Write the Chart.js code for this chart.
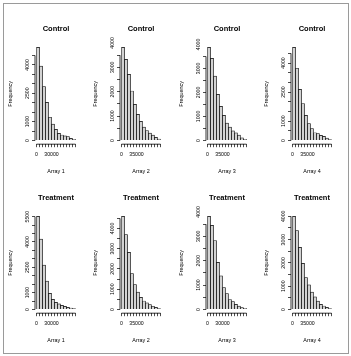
<!DOCTYPE html>
<html lang="en">
<head>
<meta charset="UTF-8">
<title>Control vs Treatment histograms</title>
<script src="https://cdn.jsdelivr.net/npm/chart.js"></script>
<style>
  body { margin: 0; background: #fff; }
  #frame { position: absolute; left: 3px; top: 3px; width: 344px; height: 349px; border: 1px solid #9a9a9a; }
  .panel { position: absolute; width: 85px; height: 169px; }
</style>
</head>
<body>
<div id="frame"></div>
<div class="panel" style="left:2px;top:6px"><canvas id="p0" width="85" height="169"></canvas></div>
<div class="panel" style="left:87px;top:6px"><canvas id="p1" width="85" height="169"></canvas></div>
<div class="panel" style="left:173px;top:6px"><canvas id="p2" width="85" height="169"></canvas></div>
<div class="panel" style="left:258px;top:6px"><canvas id="p3" width="85" height="169"></canvas></div>
<div class="panel" style="left:2px;top:175px"><canvas id="p4" width="85" height="169"></canvas></div>
<div class="panel" style="left:87px;top:175px"><canvas id="p5" width="85" height="169"></canvas></div>
<div class="panel" style="left:173px;top:175px"><canvas id="p6" width="85" height="169"></canvas></div>
<div class="panel" style="left:258px;top:175px"><canvas id="p7" width="85" height="169"></canvas></div>

<script>
  // group and array names
  const groups = ['Control', 'Control', 'Control', 'Control', 'Treatment', 'Treatment', 'Treatment', 'Treatment'];
  const arrays = ['Array 1', 'Array 2', 'Array 3', 'Array 4', 'Array 1', 'Array 2', 'Array 3', 'Array 4'];

  // bin width of each histogram
  const binWidths = [6000, 7000, 7000, 7000, 6000, 7000, 6000, 7000];

  // counts per bin
  const control1 = [4930, 3940, 2850, 2020, 1230, 870, 590, 380, 290, 240, 200, 115, 65];
  const control2 = [3820, 3330, 2710, 2030, 1480, 1070, 780, 550, 410, 300, 220, 130, 60];
  const control3 = [3880, 3420, 2680, 1920, 1420, 1050, 720, 560, 400, 320, 220, 110, 50];
  const control4 = [4810, 3730, 2640, 1910, 1300, 870, 610, 400, 350, 260, 210, 120, 40];
  const treat1 = [5520, 4170, 2630, 1680, 960, 600, 420, 330, 240, 180, 130, 90, 50];
  const treat2 = [4600, 3700, 2820, 1770, 1230, 860, 600, 420, 330, 240, 160, 100, 50];
  const treat3 = [3820, 3450, 2830, 1930, 1380, 900, 650, 410, 320, 210, 140, 80, 50];
  const treat4 = [4000, 3390, 2670, 1980, 1370, 1060, 750, 540, 360, 220, 150, 90, 40];
  const counts = [control1, control2, control3, control4, treat1, treat2, treat3, treat4];

  // tick labels that R printed (the rest were dropped for overlap)
  const xTickLabels = [[0, 30000], [0, 35000], [0, 35000], [0, 35000], [0, 30000], [0, 35000], [0, 30000], [0, 35000]];
  const yTickLabels = [
    [0, 1000, 2500, 4000], [0, 1000, 2000, 3000, 4000], [0, 1000, 2000, 3000, 4000], [0, 1000, 2500, 4000],
    [0, 1000, 2500, 4000, 5500], [0, 1000, 2000, 3000, 4000], [0, 1000, 2000, 3000, 4000], [0, 1000, 2000, 3000, 4000]
  ];
  const yStep = 500;

  const FONT = '"Liberation Sans", Arial, Helvetica, sans-serif';

  // R style axis line (first to last tick) and vertical y tick labels
  const rAxes = {
    id: 'rAxes',
    afterDraw(chart) {
      const { ctx, chartArea, scales: { x, y } } = chart;
      const labels = chart.options.plugins.rAxes.yLabels;
      const xt = x.ticks, yt = y.ticks;
      ctx.save();
      ctx.strokeStyle = '#000';
      ctx.lineWidth = 0.8;
      ctx.beginPath();
      ctx.moveTo(x.getPixelForValue(xt[0].value), chartArea.bottom);
      ctx.lineTo(x.getPixelForValue(xt[xt.length - 1].value), chartArea.bottom);
      ctx.moveTo(chartArea.left, y.getPixelForValue(yt[0].value));
      ctx.lineTo(chartArea.left, y.getPixelForValue(yt[yt.length - 1].value));
      ctx.stroke();
      ctx.fillStyle = '#000';
      ctx.font = '5.2px ' + FONT;
      ctx.textAlign = 'center';
      ctx.textBaseline = 'middle';
      labels.forEach(v => {
        ctx.save();
        ctx.translate(chartArea.left - 7, y.getPixelForValue(v));
        ctx.rotate(-Math.PI / 2);
        ctx.fillText(String(v), 0, 0);
        ctx.restore();
      });
      ctx.restore();
    }
  };

  counts.forEach((data, i) => {
    const bw = binWidths[i];
    const n = data.length;
    const top = Math.max(...data);
    const edges = [];
    for (let k = 0; k <= n; k++) edges.push(k * bw);
    const yTicks = [];
    for (let v = 0; v <= top; v += yStep) yTicks.push(v);

    new Chart(document.getElementById('p' + i), {
      type: 'bar',
      data: {
        datasets: [{
          data: data.map((c, k) => ({ x: edges[k] + bw / 2, y: c })),
          backgroundColor: '#d3d3d3',
          borderColor: '#000',
          borderWidth: 0.7,
          barPercentage: 1,
          categoryPercentage: 1
        }]
      },
      options: {
        responsive: false,
        animation: false,
        layout: { padding: { left: 0, right: 10, top: 0, bottom: 0 } },
        plugins: {
          legend: { display: false },
          tooltip: { enabled: false },
          title: {
            display: true,
            fullSize: false,
            text: groups[i],
            color: '#000',
            font: { family: FONT, size: 7.5, weight: 'bold' },
            padding: { top: 18.5, bottom: 10.1 }
          },
          rAxes: { yLabels: yTickLabels[i] }
        },
        scales: {
          x: {
            type: 'linear',
            offset: false,
            min: -0.04 * n * bw,
            max: 1.04 * n * bw,
            afterBuildTicks: s => { s.ticks = edges.map(v => ({ value: v })); },
            afterFit: s => { s.height = 30.8; },
            grid: { display: true, offset: false, drawOnChartArea: false, drawTicks: true, tickLength: 3, color: '#000', lineWidth: 0.7 },
            border: { display: false },
            ticks: {
              autoSkip: false,
              maxRotation: 0,
              padding: 4.7,
              color: '#000',
              font: { family: FONT, size: 5.2 },
              callback: v => xTickLabels[i].includes(v) ? String(v) : ''
            },
            title: { display: true, text: arrays[i], color: '#000', font: { family: FONT, size: 5.4 }, padding: { top: 0, bottom: 0 } }
          },
          y: {
            min: -0.04 * top,
            max: 1.04 * top,
            afterBuildTicks: s => { s.ticks = yTicks.map(v => ({ value: v })); },
            afterFit: s => { s.width = 33; },
            grid: { display: true, drawOnChartArea: false, drawTicks: true, tickLength: 3, color: '#000', lineWidth: 0.7 },
            border: { display: false },
            ticks: { display: false },
            title: { display: true, text: 'Frequency', color: '#000', font: { family: FONT, size: 5.4 }, padding: { top: 4.8, bottom: 0 } }
          }
        }
      },
      plugins: [rAxes]
    });
  });
</script>
</body>
</html>
